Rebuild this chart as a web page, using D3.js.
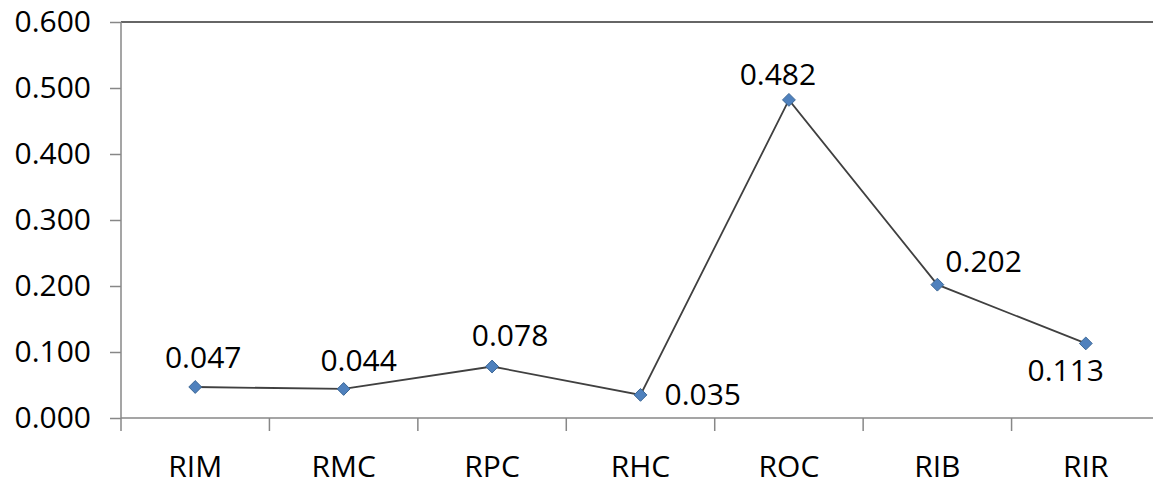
<!DOCTYPE html>
<html><head><meta charset="utf-8">
<script src="https://cdn.jsdelivr.net/npm/d3@7"></script>
<style>body{margin:0;background:#fff}svg{display:block}text{font-family:"Open Sans",sans-serif;fill:#000}</style>
</head><body>
<svg id="c" width="1153" height="485"></svg>
<script>
const categories = ["RIM","RMC","RPC","RHC","ROC","RIB","RIR"];
const values = [0.047,0.044,0.078,0.035,0.482,0.202,0.113];
const yTicks = [0,0.1,0.2,0.3,0.4,0.5,0.6];
// label placement relative to the marker: [dx, dy, anchor]
const labelOffsets = [[8,-19,"middle"],[15,-18,"middle"],[18,-21,"middle"],[24,10,"start"],[-11,-15,"middle"],[8,-13,"start"],[-20,38,"middle"]];

const svg = d3.select("#c");
const fs = 30;
const x = d3.scaleBand().domain(categories).range([121,1160]).padding(0);
const y = d3.scaleLinear().domain([0,0.6]).range([418,22]);
const axisColor = "#878787";

// top border line
svg.append("line").attr("x1",121).attr("x2",1153).attr("y1",y(0.6)).attr("y2",y(0.6))
  .attr("stroke","#333").attr("stroke-width",1.6);

// y axis
const yAxis = d3.axisLeft(y).tickValues(yTicks).tickSize(11).tickPadding(19)
  .tickFormat(d3.format(".3f"));
const gy = svg.append("g").attr("transform","translate(121,0)").call(yAxis);
gy.select(".domain").remove();
gy.selectAll(".tick line").attr("stroke",axisColor).attr("stroke-width",1.5);
gy.selectAll(".tick text").attr("font-size",fs).attr("font-family","'Open Sans',sans-serif").attr("fill","#000");
svg.append("line").attr("x1",121).attr("x2",121).attr("y1",y(0.6)).attr("y2",431)
  .attr("stroke",axisColor).attr("stroke-width",1.5);

// x axis
svg.append("line").attr("x1",121).attr("x2",1153).attr("y1",y(0)).attr("y2",y(0))
  .attr("stroke",axisColor).attr("stroke-width",1.5);
const bounds = categories.map(c=>x(c)).concat([x.range()[1]]);
svg.selectAll(".xt").data(bounds.slice(1)).enter().append("line")
  .attr("x1",d=>d).attr("x2",d=>d).attr("y1",y(0)).attr("y2",431)
  .attr("stroke",axisColor).attr("stroke-width",1.5);
svg.selectAll(".xl").data(categories).enter().append("text")
  .attr("x",d=>x(d)+x.bandwidth()/2).attr("y",477).attr("text-anchor","middle")
  .attr("font-size",fs).text(d=>d);

// line
const cx = d=>x(d)+x.bandwidth()/2;
const line = d3.line().x((d,i)=>cx(categories[i])).y(d=>y(d));
svg.append("path").datum(values).attr("d",line).attr("fill","none")
  .attr("stroke","#404040").attr("stroke-width",1.8);

// markers
svg.selectAll(".m").data(values).enter().append("path")
  .attr("d",d3.symbol().type(d3.symbolDiamond2).size(105))
  .attr("transform",(d,i)=>`translate(${cx(categories[i])},${y(d)})`)
  .attr("fill","#4f81bd").attr("stroke","#3d6896").attr("stroke-width",1);

// labels
svg.selectAll(".dl").data(values).enter().append("text")
  .attr("x",(d,i)=>cx(categories[i])+labelOffsets[i][0])
  .attr("y",(d,i)=>y(d)+labelOffsets[i][1])
  .attr("text-anchor",(d,i)=>labelOffsets[i][2])
  .attr("font-size",fs).text(d=>d3.format(".3f")(d));
</script>
</body></html>
